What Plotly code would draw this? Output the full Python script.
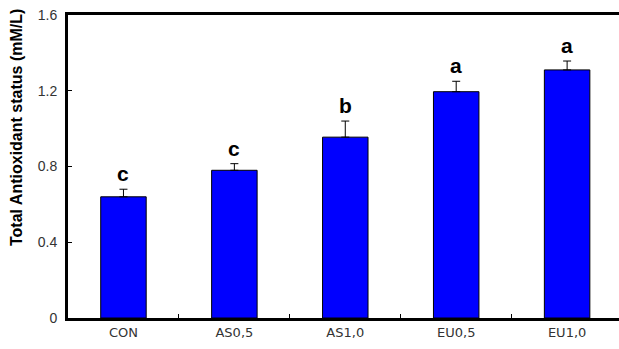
import plotly.graph_objects as go

categories = ["CON", "AS0,5", "AS1,0", "EU0,5", "EU1,0"]
values = [0.64, 0.78, 0.955, 1.195, 1.31]
errors = [0.04, 0.035, 0.085, 0.055, 0.047]
letters = ["c", "c", "b", "a", "a"]
y_ticks = [0, 0.4, 0.8, 1.2, 1.6]
y_tick_text = ["0", "0.4", "0.8", "1.2", "1.6"]

fig = go.Figure()
fig.add_trace(go.Bar(
    x=categories, y=values, width=0.41,
    marker=dict(color="#0000FF", line=dict(color="black", width=1)),
    error_y=dict(type="data", array=errors, arrayminus=[0]*len(errors),
                 symmetric=False, color="black", thickness=1, width=4),
))

for c, v, e, l in zip(categories, values, errors, letters):
    fig.add_annotation(x=c, y=v + e, text="<b>" + l + "</b>", showarrow=False,
                       yanchor="bottom", yshift=2,
                       font=dict(family="Liberation Sans, Arial", size=21, color="black"))

fig.add_annotation(xref="paper", yref="paper", x=-0.0927, y=0.63,
                   text="<b>Total Antioxidant status (mM/L)</b>", textangle=-90,
                   showarrow=False, xanchor="center", yanchor="middle",
                   font=dict(family="Liberation Sans, Arial", size=16, color="black"))

fig.update_layout(
    width=630, height=349,
    margin=dict(l=68, r=0, t=15, b=31, autoexpand=False),
    plot_bgcolor="white", paper_bgcolor="white",
    showlegend=False,
    xaxis=dict(range=[-0.5, 4.567], showline=True, linecolor="black", linewidth=3,
               mirror=True, ticks="inside", tickson="boundaries", ticklen=4,
               tickcolor="black", tickwidth=1, showgrid=False, automargin=False,
               tickfont=dict(family="DejaVu Sans", size=13, color="#333333")),
    yaxis=dict(range=[0, 1.6], showline=True, linecolor="black", linewidth=3,
               mirror=False,
               ticks="inside", ticklen=4, tickcolor="black", tickwidth=1, automargin=False,
               tickvals=y_ticks, ticktext=y_tick_text, showgrid=False, zeroline=False,
               ticklabelstandoff=5,
               tickfont=dict(family="Liberation Sans, Arial", size=14, color="#333333")),
)

fig.write_html("out.html", config={"displayModeBar": False},
               post_script="document.body.style.margin='0';document.body.style.overflow='hidden';document.documentElement.style.overflow='hidden';")
